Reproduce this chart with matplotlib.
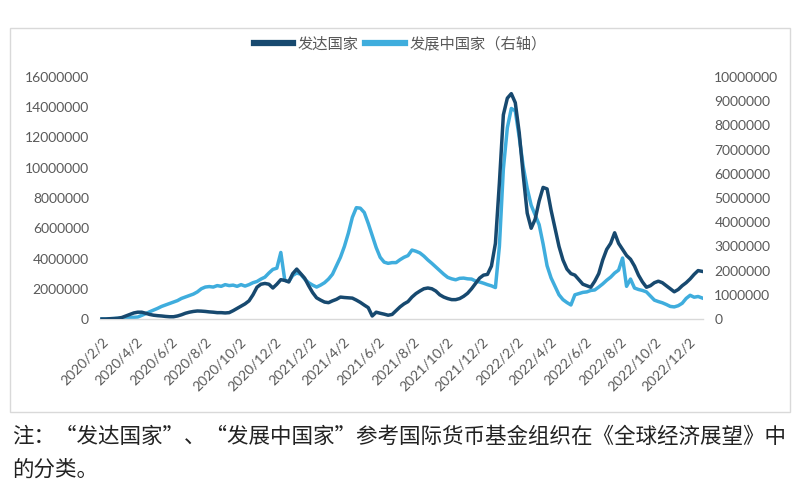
import numpy as np
import pandas as pd
import matplotlib
matplotlib.use("Agg")
import matplotlib.pyplot as plt
from matplotlib.patches import Rectangle

plt.rcParams['font.family'] = ['Lato', 'Noto Sans CJK SC', 'DejaVu Sans']

# weekly data, starting 2020/2/2
dates = pd.date_range('2020-02-02', periods=152, freq='7D')

# developed countries (left axis), millions
developed = [
    0.0, 0.0, 0.02, 0.03, 0.05, 0.1, 0.2, 0.3, 0.4, 0.45,
    0.45, 0.38, 0.3, 0.25, 0.22, 0.2, 0.17, 0.15, 0.15, 0.2,
    0.28, 0.38, 0.45, 0.5, 0.53, 0.52, 0.5, 0.47, 0.45, 0.42,
    0.42, 0.4, 0.42, 0.55, 0.7, 0.85, 1.0, 1.2, 1.6, 2.1,
    2.3, 2.35, 2.3, 2.05, 2.3, 2.6, 2.55, 2.45, 3.0, 3.3,
    3.0, 2.7, 2.2, 1.75, 1.4, 1.25, 1.12, 1.08, 1.2, 1.3,
    1.45, 1.42, 1.4, 1.38, 1.25, 1.1, 0.92, 0.75, 0.2, 0.45,
    0.38, 0.32, 0.25, 0.3, 0.55, 0.8, 1.0, 1.15, 1.45, 1.68,
    1.85, 2.0, 2.05, 2.0, 1.85, 1.6, 1.45, 1.35, 1.28, 1.28,
    1.35, 1.5, 1.7, 2.0, 2.35, 2.7, 2.9, 2.95, 3.5, 5.0,
    9.0, 13.5, 14.6, 14.9, 14.3, 12.3, 9.5, 7.0, 6.0, 6.6,
    7.8, 8.7, 8.6, 7.2, 6.0, 4.8, 3.9, 3.3, 3.0, 2.9,
    2.6, 2.3, 2.2, 2.1, 2.5, 3.0, 3.9, 4.6, 5.0, 5.7,
    5.0, 4.6, 4.2, 3.95, 3.5, 2.9, 2.45, 2.1, 2.2, 2.4,
    2.5, 2.4, 2.2, 2.0, 1.8, 1.95, 2.2, 2.4, 2.65, 2.95,
    3.2, 3.15,
]

# developing countries (right axis), millions
developing = [
    0.0, 0.0, 0.01, 0.02, 0.03, 0.04, 0.05, 0.06, 0.07, 0.08,
    0.15, 0.22, 0.3, 0.37, 0.44, 0.52, 0.58, 0.64, 0.7, 0.76,
    0.85, 0.91, 0.97, 1.03, 1.12, 1.25, 1.32, 1.34, 1.32, 1.38,
    1.35, 1.42, 1.38, 1.4, 1.35, 1.42, 1.36, 1.42, 1.5, 1.55,
    1.65, 1.73, 1.9, 2.05, 2.1, 2.75, 1.6, 1.55, 1.8, 1.9,
    1.85, 1.65, 1.5, 1.4, 1.32, 1.4, 1.5, 1.65, 1.85, 2.2,
    2.55, 3.0, 3.55, 4.2, 4.6, 4.58, 4.4, 3.95, 3.45, 2.95,
    2.55, 2.35, 2.3, 2.33, 2.33, 2.45, 2.55, 2.62, 2.85, 2.8,
    2.73, 2.6, 2.44, 2.3, 2.15, 2.0, 1.85, 1.72, 1.66, 1.62,
    1.68, 1.69, 1.66, 1.65, 1.57, 1.53, 1.48, 1.42, 1.37, 1.3,
    3.0, 6.2, 7.9, 8.7, 8.6, 7.5, 6.3, 5.4, 4.7, 4.3,
    3.9, 3.1, 2.2, 1.7, 1.35, 1.0, 0.8, 0.68, 0.58, 1.0,
    1.05, 1.1, 1.12, 1.18, 1.2, 1.32, 1.45, 1.6, 1.73, 1.9,
    2.02, 2.52, 1.35, 1.65, 1.28, 1.22, 1.18, 1.12, 0.95, 0.78,
    0.72, 0.67, 0.6, 0.52, 0.5, 0.55, 0.65, 0.85, 0.98, 0.9,
    0.93, 0.87,
]

developed = np.array(developed) * 1e6
developing = np.array(developing) * 1e6

left_ticks = np.arange(0, 16000001, 2000000)
right_ticks = np.arange(0, 10000001, 1000000)
tick_dates = pd.date_range('2020-02-01', '2022-12-01', freq='2MS') + pd.Timedelta(days=1)
tick_labels = [f"{d.year}/{d.month}/{d.day}" for d in tick_dates]

dark = '#17496F'
light = '#3FADDD'
grey = '#595959'

fig = plt.figure(figsize=(8, 5), dpi=100)
fig.patches.append(Rectangle((10 / 800, 1 - 412 / 500), 780 / 800, 384 / 500,
                             transform=fig.transFigure, fill=False,
                             edgecolor='#D9D9D9', linewidth=1))

ax = fig.add_axes([0.125, 0.362, 0.754, 0.484])
ax2 = ax.twinx()

l1, = ax.plot(dates, developed, color=dark, lw=2.5, label='发达国家', zorder=3)
l2, = ax2.plot(dates, developing, color=light, lw=2.5, label='发展中国家（右轴）')
ax.set_zorder(ax2.get_zorder() + 1)
ax.patch.set_visible(False)

ax.set_ylim(0, 16000000)
ax2.set_ylim(0, 10000000)
ax.set_yticks(left_ticks)
ax.set_yticklabels([str(v) for v in left_ticks])
ax2.set_yticks(right_ticks)
ax2.set_yticklabels([str(v) for v in right_ticks])

ax.set_xlim(dates[0] - pd.Timedelta(days=3.5), dates[0] + pd.Timedelta(days=1059))
ax.set_xticks(tick_dates)
ax.set_xticklabels(tick_labels, rotation=45, ha='right', rotation_mode='anchor')

for a in (ax, ax2):
    for s in a.spines.values():
        s.set_visible(False)
    a.tick_params(length=0, colors=grey, labelsize=10)
ax.tick_params(axis='y', pad=8)
ax2.tick_params(axis='y', pad=8)
ax.tick_params(axis='x', pad=12)
ax.spines['bottom'].set_visible(True)
ax.spines['bottom'].set_color('#D9D9D9')
ax.spines['bottom'].set_linewidth(1)

leg = fig.legend(handles=[l1, l2], loc='center', bbox_to_anchor=(0.5, 1 - 44 / 500),
                 ncol=2, frameon=False, fontsize=11, handlelength=2.6,
                 handletextpad=0.3, columnspacing=0.4)
for line in leg.get_lines():
    line.set_linewidth(4.5)
for t in leg.get_texts():
    t.set_color(grey)

fig.text(12 / 800, 1 - 437 / 500,
         '注：“发达国家”、“发展中国家”参考国际货币基金组织在《全球经济展望》中',
         fontsize=15.5, color='#222222', va='center', ha='left',
         family=['Noto Sans CJK SC'])
fig.text(12 / 800, 1 - 470 / 500, '的分类。',
         fontsize=15.5, color='#222222', va='center', ha='left',
         family=['Noto Sans CJK SC'])

fig.savefig('out.png', dpi=100)
